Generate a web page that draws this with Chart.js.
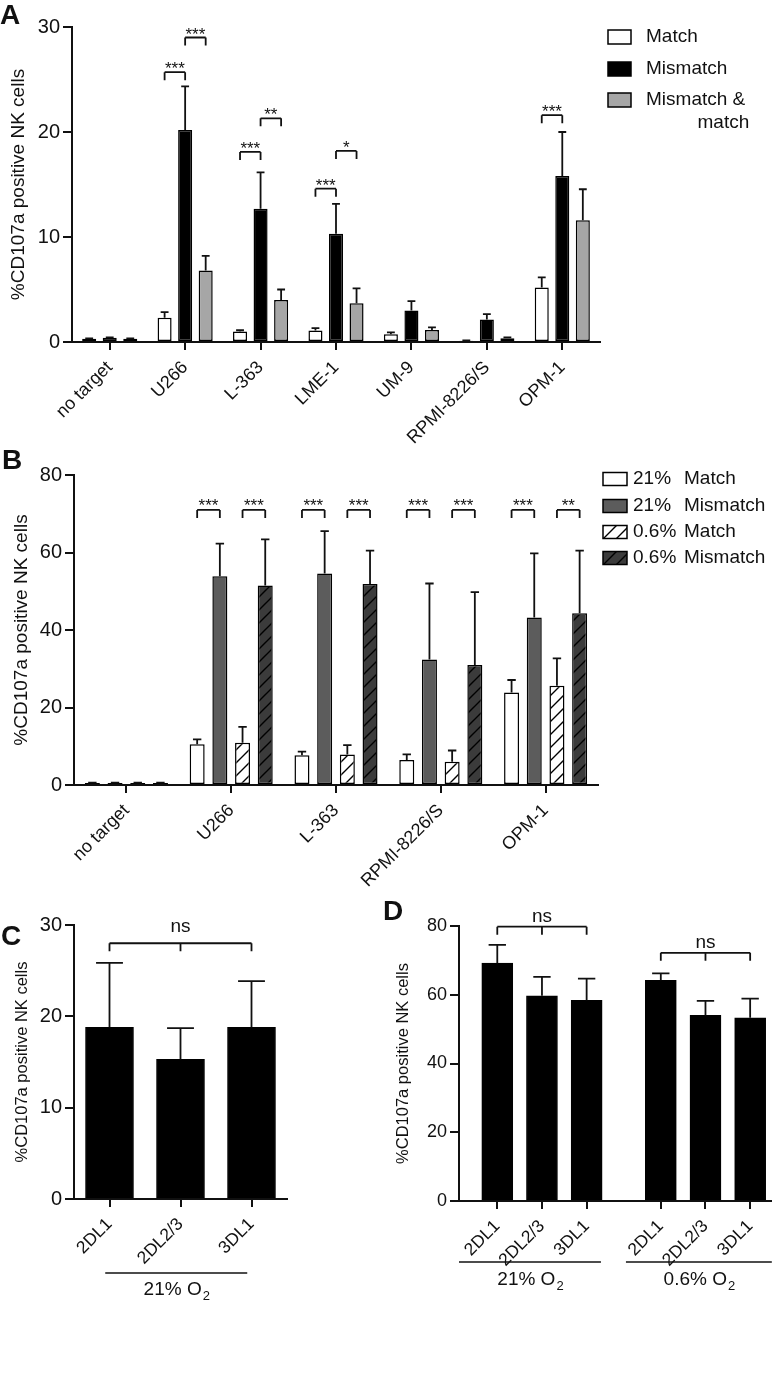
<!DOCTYPE html>
<html>
<head>
<meta charset="utf-8">
<script src="https://cdn.jsdelivr.net/npm/chart.js@4/dist/chart.umd.min.js"></script>
<style>
  body { margin: 0; background: #fff; }
  #wrap { position: relative; width: 772px; height: 1378px; overflow: hidden; background: #fff; }
  canvas { position: absolute; }
  .letter { position: absolute; font: bold 28px "Liberation Sans", Arial, sans-serif; line-height: 1; color: #111; }
</style>
</head>
<body>
<div id="wrap">
  <canvas id="chartA" width="772" height="470" style="left:0;top:0"></canvas>
  <canvas id="chartB" width="772" height="450" style="left:0;top:440px"></canvas>
  <canvas id="chartC" width="380" height="488" style="left:0;top:890px"></canvas>
  <canvas id="chartD" width="392" height="488" style="left:380px;top:890px"></canvas>
  <div class="letter" style="left:0;top:1px">A</div>
  <div class="letter" style="left:2px;top:446px">B</div>
  <div class="letter" style="left:1px;top:922px">C</div>
  <div class="letter" style="left:383px;top:897px">D</div>
</div>
<script>
// ---------- data ----------
// panel A
const catsA = ["no target", "U266", "L-363", "LME-1", "UM-9", "RPMI-8226/S", "OPM-1"];
const matchA = [0.3, 2.3, 1.0, 1.1, 0.75, 0.12, 5.2];
const matchErrA = [0.05, 0.55, 0.12, 0.22, 0.17, 0.03, 0.96];
const mismatchA = [0.4, 20.2, 12.7, 10.3, 3.0, 2.15, 15.8];
const mismatchErrA = [0.05, 4.15, 3.45, 2.85, 0.9, 0.5, 4.2];
const bothA = [0.3, 6.8, 4.0, 3.7, 1.15, 0.35, 11.6];
const bothErrA = [0.05, 1.4, 1.0, 1.4, 0.25, 0.1, 2.95];
// [category, dataset from, dataset to, y, text]
const sigA = [
  [1, 0, 1, 25.7, "***"], [1, 1, 2, 29.0, "***"],
  [2, 0, 1, 18.1, "***"], [2, 1, 2, 21.3, "**"],
  [3, 0, 1, 14.6, "***"], [3, 1, 2, 18.2, "*"],
  [6, 0, 1, 21.6, "***"]
];

// panel B
const catsB = ["no target", "U266", "L-363", "RPMI-8226/S", "OPM-1"];
const match21 = [0.5, 10.5, 7.7, 6.45, 23.9];
const match21Err = [0.1, 1.3, 0.9, 1.45, 3.2];
const mismatch21 = [0.5, 53.9, 54.6, 32.4, 43.2];
const mismatch21Err = [0.1, 8.4, 10.9, 19.6, 16.6];
const match06 = [0.5, 10.9, 7.9, 6.0, 25.6];
const match06Err = [0.1, 4.1, 2.4, 2.9, 7.1];
const mismatch06 = [0.5, 51.5, 51.9, 31.0, 44.3];
const mismatch06Err = [0.1, 11.9, 8.6, 18.8, 16.2];
const sigB = [
  [1, 0, 1, 71, "***"], [1, 2, 3, 71, "***"],
  [2, 0, 1, 71, "***"], [2, 2, 3, 71, "***"],
  [3, 0, 1, 71, "***"], [3, 2, 3, 71, "***"],
  [4, 0, 1, 71, "***"], [4, 2, 3, 71, "**"]
];

// panel C
const catsC = ["2DL1", "2DL2/3", "3DL1"];
const valC = [18.8, 15.3, 18.8];
const errC = [7.05, 3.4, 5.05];

// panel D
const catsD = ["2DL1", "2DL2/3", "3DL1"];
const val21D = [69.2, 59.7, 58.4];
const err21D = [5.3, 5.5, 6.3];
const val06D = [64.2, 54.0, 53.3];
const err06D = [2.0, 4.2, 5.6];

const yTitle = "%CD107a positive NK cells";

// ---------- styles ----------
const FONT = '"Liberation Sans", Arial, Helvetica, sans-serif';
const INK = "#111";
const GRAY_A = "#a6a6a6";
const DARK21 = "#5c5c5c";
const DARK06 = "#3b3b3b";

Chart.defaults.font.family = FONT;
Chart.defaults.color = INK;
Chart.defaults.animation = false;

function hatch(bg) {
  const p = 13;
  const c = document.createElement("canvas");
  c.width = p;
  c.height = p;
  const g = c.getContext("2d");
  g.fillStyle = bg;
  g.fillRect(0, 0, p, p);
  g.strokeStyle = "#000";
  g.lineWidth = 1.4;
  g.beginPath();
  g.moveTo(0, p); g.lineTo(p, 0);
  g.moveTo(-2, 2); g.lineTo(2, -2);
  g.moveTo(p - 2, p + 2); g.lineTo(p + 2, p - 2);
  g.stroke();
  return g.createPattern(c, "repeat");
}

// error bars (upper only), read from dataset.errors
const errorBars = {
  id: "errorBars",
  afterDatasetsDraw(chart) {
    const ctx = chart.ctx;
    const y = chart.scales.y;
    chart.data.datasets.forEach((ds, i) => {
      if (!ds.errors) return;
      chart.getDatasetMeta(i).data.forEach((bar, j) => {
        const raw = ds.data[j];
        const v = typeof raw === "object" ? raw.y : raw;
        const top = y.getPixelForValue(v + ds.errors[j]);
        const cap = bar.width * 0.28;
        ctx.save();
        ctx.strokeStyle = INK;
        ctx.lineWidth = 1.8;
        ctx.beginPath();
        ctx.moveTo(bar.x, bar.y);
        ctx.lineTo(bar.x, top);
        ctx.moveTo(bar.x - cap, top);
        ctx.lineTo(bar.x + cap, top);
        ctx.stroke();
        ctx.restore();
      });
    });
  }
};

// significance brackets; items: {bars: [[ds, idx], ...], y, text}
function makeBrackets(items, font, textDy) {
  return {
    id: "brackets",
    afterDatasetsDraw(chart) {
      const ctx = chart.ctx;
      const y = chart.scales.y;
      items.forEach(b => {
        const xs = b.bars.map(([d, i]) => chart.getDatasetMeta(d).data[i].x);
        const yp = y.getPixelForValue(b.y);
        const x0 = xs[0], x1 = xs[xs.length - 1];
        ctx.save();
        ctx.strokeStyle = INK;
        ctx.lineWidth = 1.8;
        ctx.beginPath();
        ctx.moveTo(x0, yp);
        ctx.lineTo(x1, yp);
        xs.forEach(x => { ctx.moveTo(x, yp); ctx.lineTo(x, yp + 8); });
        ctx.stroke();
        ctx.fillStyle = INK;
        ctx.font = font;
        ctx.textAlign = "center";
        ctx.textBaseline = "alphabetic";
        ctx.fillText(b.text, (x0 + x1) / 2, yp + textDy);
        ctx.restore();
      });
    }
  };
}

function legendBox(ctx, x, y, w, h, fill) {
  ctx.fillStyle = fill;
  ctx.fillRect(x, y, w, h);
  ctx.strokeStyle = "#000";
  ctx.lineWidth = 1.5;
  ctx.strokeRect(x, y, w, h);
}

// group lines + "xx% O2" captions under the axis
function makeGroups(groups, lineDy, textDy) {
  return {
    id: "groups",
    afterDraw(chart) {
      const ctx = chart.ctx;
      const x = chart.scales.x;
      const base = chart.chartArea.bottom;
      groups.forEach(g => {
        const a = x.getPixelForValue(g.from);
        const b = x.getPixelForValue(g.to);
        ctx.save();
        ctx.strokeStyle = INK;
        ctx.lineWidth = 1.5;
        ctx.beginPath();
        ctx.moveTo(a, base + lineDy);
        ctx.lineTo(b, base + lineDy);
        ctx.stroke();
        ctx.fillStyle = INK;
        ctx.textBaseline = "middle";
        ctx.font = "19px " + FONT;
        const w1 = ctx.measureText(g.text).width;
        ctx.font = "13px " + FONT;
        const w2 = ctx.measureText("2").width;
        const sx = (a + b) / 2 - (w1 + w2) / 2;
        ctx.font = "19px " + FONT;
        ctx.fillText(g.text, sx, base + textDy);
        ctx.font = "13px " + FONT;
        ctx.fillText("2", sx + w1 + 1, base + textDy + 6);
        ctx.restore();
      });
    }
  };
}

function yAxis(max, step, width, tickSize, titleSize, titlePad) {
  return {
    min: 0,
    max: max,
    ticks: { stepSize: step, font: { size: tickSize }, padding: 3, color: INK },
    grid: { drawOnChartArea: false, tickLength: 9, color: INK, lineWidth: 2 },
    border: { color: INK, width: 2 },
    title: { display: true, text: yTitle, font: { size: titleSize }, padding: { top: titlePad, bottom: 0 }, color: INK },
    afterFit(s) { s.width = width; }
  };
}

function xAxis(height, size) {
  return {
    offset: true,
    ticks: { font: { size: size }, minRotation: 45, maxRotation: 45, padding: 7, color: INK, autoSkip: false },
    grid: { drawOnChartArea: false, offset: false, tickLength: 8, color: INK, lineWidth: 2 },
    border: { color: INK, width: 2 },
    afterFit(s) { s.height = height; }
  };
}

function bars(label, data, errors, fill, extra) {
  return Object.assign({
    label: label,
    data: data,
    errors: errors,
    backgroundColor: fill,
    borderColor: "#000",
    borderWidth: 1.5,
    borderSkipped: false
  }, extra || {});
}

// ---------- panel A ----------
const legendA = [
  { fill: "#ffffff", lines: ["Match"] },
  { fill: "#000000", lines: ["Mismatch"] },
  { fill: GRAY_A, lines: ["Mismatch &", "match"] }
];
const legendAPlugin = {
  id: "legendA",
  afterDraw(chart) {
    const ctx = chart.ctx;
    const rows = [37, 69, 100];
    ctx.save();
    legendA.forEach((item, i) => {
      legendBox(ctx, 608, rows[i] - 7, 23, 14, item.fill);
      ctx.fillStyle = INK;
      ctx.font = "19px " + FONT;
      ctx.textBaseline = "middle";
      ctx.textAlign = "left";
      ctx.fillText(item.lines[0], 646, rows[i]);
      if (item.lines[1]) {
        const w = ctx.measureText(item.lines[0]).width;
        ctx.textAlign = "right";
        ctx.fillText(item.lines[1], 646 + w + 4, rows[i] + 23);
      }
    });
    ctx.restore();
  }
};

new Chart(document.getElementById("chartA"), {
  type: "bar",
  data: {
    labels: catsA,
    datasets: [
      bars("Match", matchA, matchErrA, "#ffffff"),
      bars("Mismatch", mismatchA, mismatchErrA, "#000000"),
      bars("Mismatch & match", bothA, bothErrA, GRAY_A)
    ]
  },
  options: {
    responsive: false,
    layout: { padding: { left: 0, right: 172, top: 27, bottom: 0 } },
    datasets: { bar: { categoryPercentage: 0.817, barPercentage: 0.683 } },
    plugins: { legend: { display: false }, tooltip: { enabled: false } },
    scales: { x: xAxis(128, 18), y: yAxis(30, 10, 72, 20, 19, 7) }
  },
  plugins: [errorBars, legendAPlugin,
    makeBrackets(sigA.map(s => ({ bars: [[s[1], s[0]], [s[2], s[0]]], y: s[3], text: s[4] })), "17px " + FONT, 2)]
});

// ---------- panel B ----------
const legendB = [
  { fill: "#ffffff", pre: "21%", name: "Match" },
  { fill: DARK21, pre: "21%", name: "Mismatch" },
  { fill: hatch("#ffffff"), pre: "0.6%", name: "Match" },
  { fill: hatch(DARK06), pre: "0.6%", name: "Mismatch" }
];
const legendBPlugin = {
  id: "legendB",
  afterDraw(chart) {
    const ctx = chart.ctx;
    const rows = [39, 66, 92, 118];
    ctx.save();
    legendB.forEach((item, i) => {
      legendBox(ctx, 603, rows[i] - 6.5, 24, 13, item.fill);
      ctx.fillStyle = INK;
      ctx.font = "19px " + FONT;
      ctx.textBaseline = "middle";
      ctx.textAlign = "left";
      ctx.fillText(item.pre, 633, rows[i]);
      ctx.fillText(item.name, 684, rows[i]);
    });
    ctx.restore();
  }
};

new Chart(document.getElementById("chartB"), {
  type: "bar",
  data: {
    labels: catsB,
    datasets: [
      bars("21% Match", match21, match21Err, "#ffffff"),
      bars("21% Mismatch", mismatch21, mismatch21Err, DARK21),
      bars("0.6% Match", match06, match06Err, hatch("#ffffff")),
      bars("0.6% Mismatch", mismatch06, mismatch06Err, hatch(DARK06))
    ]
  },
  options: {
    responsive: false,
    layout: { padding: { left: 0, right: 174, top: 35, bottom: 0 } },
    datasets: { bar: { categoryPercentage: 0.866, barPercentage: 0.661 } },
    plugins: { legend: { display: false }, tooltip: { enabled: false } },
    scales: { x: xAxis(105, 18), y: yAxis(80, 20, 74, 20, 19, 10) }
  },
  plugins: [errorBars, legendBPlugin,
    makeBrackets(sigB.map(s => ({ bars: [[s[1], s[0]], [s[2], s[0]]], y: s[3], text: s[4] })), "17px " + FONT, 1)]
});

// ---------- panel C ----------
new Chart(document.getElementById("chartC"), {
  type: "bar",
  data: {
    labels: catsC,
    datasets: [bars("21% O2", valC, errC, "#000000", { barThickness: 48, borderWidth: 1 })]
  },
  options: {
    responsive: false,
    layout: { padding: { left: 0, right: 93, top: 35, bottom: 0 } },
    plugins: { legend: { display: false }, tooltip: { enabled: false } },
    scales: { x: xAxis(179, 17.5), y: yAxis(30, 10, 74, 20, 16.5, 13) }
  },
  plugins: [errorBars,
    makeBrackets([{ bars: [[0, 0], [0, 1], [0, 2]], y: 28.0, text: "ns" }], "19px " + FONT, -11),
    makeGroups([{ from: -0.06, to: 1.94, text: "21% O" }], 74, 91)]
});

// ---------- panel D ----------
// two groups of three bars on a linear axis, the second group shifted by groupStep
const groupStep = 3.66;
const xD = [0, 1, 2].concat([0, 1, 2].map(v => v + groupStep));
const labelsD = catsD.concat(catsD);
const dataD = val21D.concat(val06D).map((v, i) => ({ x: xD[i], y: v }));

const xAxisD = xAxis(177, 17.5);
Object.assign(xAxisD, {
  type: "linear",
  offset: false,
  min: -0.857,
  max: 6.145,
  afterBuildTicks(s) { s.ticks = xD.map(v => ({ value: v })); }
});
xAxisD.ticks.callback = (v, i) => labelsD[i];

new Chart(document.getElementById("chartD"), {
  type: "bar",
  data: {
    datasets: [bars("KIR", dataD, err21D.concat(err06D), "#000000", { barThickness: 31, borderWidth: 1 })]
  },
  options: {
    responsive: false,
    layout: { padding: { left: 0, right: 0, top: 36, bottom: 0 } },
    plugins: { legend: { display: false }, tooltip: { enabled: false } },
    scales: { x: xAxisD, y: yAxis(80, 20, 79, 18, 16.5, 14) }
  },
  plugins: [errorBars,
    makeBrackets([
      { bars: [[0, 0], [0, 1], [0, 2]], y: 79.8, text: "ns" },
      { bars: [[0, 3], [0, 4], [0, 5]], y: 72.2, text: "ns" }
    ], "19px " + FONT, -5),
    makeGroups([
      { from: -0.857, to: 2.32, text: "21% O" },
      { from: 2.88, to: 6.145, text: "0.6% O" }
    ], 61, 79)]
});
</script>
</body>
</html>
